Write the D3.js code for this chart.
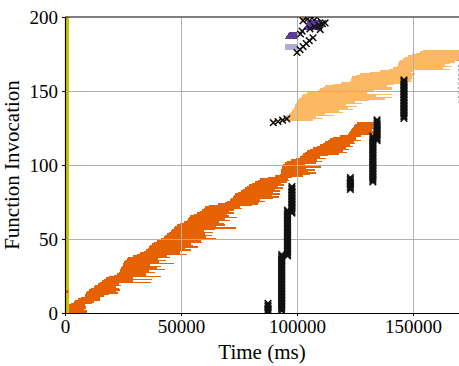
<!DOCTYPE html>
<html>
<head>
<meta charset="utf-8">
<script src="https://cdn.jsdelivr.net/npm/d3@7"></script>
<style>
  body { margin: 0; background: #fff; }
  text { font-family: "Liberation Serif", serif; }
</style>
</head>
<body>
<div id="chart"></div>
<script>
// start / duration of every invocation, seconds
var darkFirstRow = 0;
var darkStart = [1.6,1.6,1.6,1.6,1.6,1.6,2.5,3.9,4.5,5.6,
  7.0,8.6,8.8,9.0,9.3,10.5,11.2,12.5,13.0,14.2,
  15.1,15.8,16.8,17.5,19.0,21.0,22.5,23.3,23.6,23.9,
  24.1,24.4,24.8,25.1,25.4,26.0,26.6,27.2,29.5,31.0,
  32.5,34.0,35.0,35.6,36.2,36.8,37.5,38.5,39.5,40.5,
  41.5,42.7,43.3,44.0,44.8,45.5,46.1,46.8,47.5,48.3,
  49.5,51.5,52.6,53.0,53.5,53.9,55.5,57.0,58.2,59.0,
  59.8,60.3,62.0,66.0,69.0,70.0,71.1,71.6,72.2,72.8,
  73.3,74.5,75.8,76.7,77.5,78.4,79.5,80.8,81.9,83.0,
  84.0,87.5,90.5,92.7,92.9,93.1,93.3,93.5,93.7,93.9,
  94.0,94.8,95.7,97.5,99.5,101.3,102.0,102.8,103.5,104.3,
  105.5,107.0,108.6,109.8,111.0,112.1,113.2,114.4,115.5,118.5,
  122.0,122.4,122.8,123.2,123.7,124.1,124.6,125.2,125.9];
var darkDur = [7.9,7.9,6.5,7.5,7.5,7.0,9.0,8.5,10.5,9.5,
  8.0,8.0,10.0,14.0,12.5,13.0,12.0,9.5,11.0,9.0,
  22.0,13.5,20.5,12.0,22.5,14.0,12.5,15.5,12.5,19.0,
  15.5,17.0,12.0,22.0,15.0,17.5,13.5,18.0,14.5,21.5,
  17.0,15.5,19.5,16.0,21.0,18.5,17.0,20.5,19.0,16.0,
  23.5,18.0,20.0,16.5,19.0,14.5,18.5,27.0,17.5,20.5,
  19.0,15.0,18.5,16.0,20.5,17.0,14.5,16.0,12.5,14.0,
  16.5,15.0,18.5,17.0,14.5,16.0,13.0,18.0,20.0,16.5,
  19.5,15.0,17.0,14.0,16.5,13.5,15.0,12.5,14.0,13.5,
  12.0,10.5,12.0,13.0,15.5,11.5,14.5,10.5,16.5,12.5,
  9.5,13.5,15.0,11.0,13.0,8.5,11.5,15.5,18.0,15.5,
  17.0,14.0,15.5,13.0,14.0,12.5,14.5,11.0,10.0,9.0,
  9.5,11.0,10.0,9.0,9.5,8.5,8.0,7.5,7.0];

var lightFirstRow = 129;
var lightStart = [89.0,92.5,94.0,95.0,95.8,96.5,97.2,97.8,98.3,98.7,
  99.0,99.3,99.6,100.0,100.5,101.0,101.6,102.1,102.6,104.5,
  106.5,109.0,110.0,111.0,112.0,115.5,119.0,122.8,123.1,123.4,
  123.7,125.5,127.1,131.5,135.8,139.5,141.5,143.1,143.4,143.7,
  144.0,144.4,145.5,146.7,147.8,149.5,151.2,153.0,154.5];
var lightDur = [4,14.5,17,13,20,15.5,22.8,20.2,25.7,23.3,
  27,21.7,28.4,25,30.5,37,39.4,31.9,38.4,25.5,
  30.5,24,31,30,27,26.5,27,26.8,25.9,26.6,
  25.8,24.5,23.9,17.5,14.2,26.5,21.5,23.9,20.6,22.3,
  24,27.6,26.5,25.3,24.2,22.5,20.8,19,17.5];

var lilacRows = [178,179,180,181];
var lilacStart = [94.8,94.8,94.8,94.8];
var lilacDur = [5.2,5.2,5.2,5.2];

var purpleRows = [185,186,187,188,189,191,192,193,194,195,196,197];
var purpleStart = [94.8,95.2,95.6,96.1,96.6,102.6,102.9,103.3,103.7,104.0,104.4,104.8];
var purpleDur = [5.6,5.2,4.8,4.3,3.8,8.2,7.9,7.5,7.1,6.8,6.4,6.0];

var lateRows = [198];
var lateStart = [101.7];
var lateDur = [2.6];

var warmupEnd = 1.6;   // yellow band, every invocation
var invocations = 200;

// failures stacked in columns: time (s), first and last invocation
var failAt   = [87.5, 93.4, 95.9, 97.8, 123.0, 132.7, 134.5, 146.1];
var failFrom = [0, 1, 38, 67, 83, 88, 116, 131];
var failTo   = [6, 39, 69, 85, 91, 119, 130, 157];

// single failures [time s, invocation]
var failSingle = [[89.8,128.6],[91.8,129.4],[93.8,130.3],[95.6,131.2],
  [100.0,176],[101.3,178],[102.6,180],[104.0,182],[105.3,184],[106.9,186],
  [101.5,188.5],[102.2,190.5],
  [105.6,192],[107.5,193.5],[109.5,194.5],[111,195.5],[112.1,196],[110,191.5],
  [102.6,197.5],[104.5,198.5],[106.5,199.3],[108.6,199.8]];

// faint marks cut by the right edge [time s, invocation]
var edgeMarks = [[170.9,144.5],[170.9,147.5],[170.9,150.5],[170.9,153.5],
  [170.9,156.5],[170.9,159.5],[170.9,162.5],[170.9,165.5],[170.9,168.5]];
var redMarks = [[0.8,14.5]];

var xTicks = [0, 50000, 100000, 150000];
var yTicks = [0, 50, 100, 150, 200];

var width = 459, height = 366;

var x = d3.scaleLinear().domain([0, 170000]).range([65, 65 + 116 * 3.4]);
var y = d3.scaleLinear().domain([0, 200]).range([313, 17]);

var svg = d3.select("#chart").append("svg")
  .attr("width", width)
  .attr("height", height);

svg.append("defs").append("clipPath").attr("id", "plot")
  .append("rect")
  .attr("x", 65).attr("y", 17)
  .attr("width", width - 65).attr("height", 296);

var plot = svg.append("g").attr("clip-path", "url(#plot)");

function rows(first, starts, durs, list) {
  return starts.map(function(s, i) {
    return { row: list ? list[i] : first + i, start: s, dur: durs[i] };
  });
}

function drawBars(data, color) {
  plot.append("g").selectAll("rect")
    .data(data)
    .enter()
    .append("rect")
    .attr("x", function(d) { return x(d.start * 1000); })
    .attr("width", function(d) { return x((d.start + d.dur) * 1000) - x(d.start * 1000); })
    .attr("y", function(d) { return y(d.row + 1); })
    .attr("height", function(d) { return y(d.row) - y(d.row + 1); })
    .attr("fill", color)
    .attr("shape-rendering", "crispEdges");
}

drawBars(d3.range(invocations).map(function(i) {
  return { row: i, start: 0, dur: warmupEnd };
}), "#c8c400");
drawBars(rows(darkFirstRow, darkStart, darkDur), "#e66101");
drawBars(rows(lightFirstRow, lightStart, lightDur), "#fdb863");
drawBars(rows(0, lilacStart, lilacDur, lilacRows), "#b2abd2");
drawBars(rows(0, purpleStart, purpleDur, purpleRows), "#5e3c99");
drawBars(rows(0, lateStart, lateDur, lateRows), "#e66101");

// grid on top of the bars
var grid = plot.append("g")
  .attr("stroke", "#b0b0b0")
  .attr("stroke-width", 1)
  .attr("shape-rendering", "crispEdges");
grid.selectAll(".gx")
  .data(xTicks.slice(1))
  .enter().append("line")
  .attr("x1", function(d) { return x(d); })
  .attr("x2", function(d) { return x(d); })
  .attr("y1", 17).attr("y2", 313);
grid.selectAll(".gy")
  .data(yTicks.slice(1, -1))
  .enter().append("line")
  .attr("x1", 65).attr("x2", width)
  .attr("y1", function(d) { return y(d); })
  .attr("y2", function(d) { return y(d); });

var fails = [];
failAt.forEach(function(t, k) {
  for (var r = failFrom[k]; r <= failTo[k]; r++) fails.push([t, r + 0.5]);
});
fails = fails.concat(failSingle);

var cross = "M-3.3,-3.3L3.3,3.3M-3.3,3.3L3.3,-3.3";

plot.append("g").selectAll("path")
  .data(fails)
  .enter()
  .append("path")
  .attr("d", cross)
  .attr("transform", function(d) { return "translate(" + x(d[0] * 1000) + "," + y(d[1]) + ")"; })
  .attr("fill", "none")
  .attr("stroke", "#111")
  .attr("stroke-width", 1.5);

plot.append("g").selectAll("path")
  .data(edgeMarks)
  .enter()
  .append("path")
  .attr("d", cross)
  .attr("transform", function(d) { return "translate(" + x(d[0] * 1000) + "," + y(d[1]) + ")"; })
  .attr("fill", "none")
  .attr("stroke", "#777")
  .attr("stroke-width", 1);

plot.append("g").selectAll("path")
  .data(redMarks)
  .enter()
  .append("path")
  .attr("d", "M-1.5,-1.5L1.5,1.5M-1.5,1.5L1.5,-1.5")
  .attr("transform", function(d) { return "translate(" + x(d[0] * 1000) + "," + y(d[1]) + ")"; })
  .attr("stroke", "#e00000")
  .attr("stroke-width", 1);

// axes
var xAxis = svg.append("g")
  .attr("transform", "translate(0,313)")
  .call(d3.axisBottom(x).tickValues(xTicks).tickFormat(d3.format("d"))
    .tickSize(3).tickSizeOuter(0).tickPadding(4));
var yAxis = svg.append("g")
  .attr("transform", "translate(65,0)")
  .call(d3.axisLeft(y).tickValues(yTicks).tickSize(3).tickSizeOuter(0).tickPadding(4));

[xAxis, yAxis].forEach(function(a) {
  a.selectAll("text")
    .attr("font-family", "Liberation Serif, serif")
    .attr("font-size", "19px")
    .attr("fill", "#000");
  a.select(".domain").attr("stroke", "#000").attr("stroke-width", 1.2);
});

svg.append("line")
  .attr("x1", 65).attr("x2", width)
  .attr("y1", 17).attr("y2", 17)
  .attr("stroke", "#000")
  .attr("stroke-width", 1.2);

svg.append("text")
  .attr("x", (65 + width) / 2)
  .attr("y", 359)
  .attr("text-anchor", "middle")
  .attr("font-size", "21px")
  .text("Time (ms)");

svg.append("text")
  .attr("transform", "rotate(-90)")
  .attr("x", -165)
  .attr("y", 19)
  .attr("text-anchor", "middle")
  .attr("font-size", "21px")
  .text("Function Invocation");
</script>
</body>
</html>
